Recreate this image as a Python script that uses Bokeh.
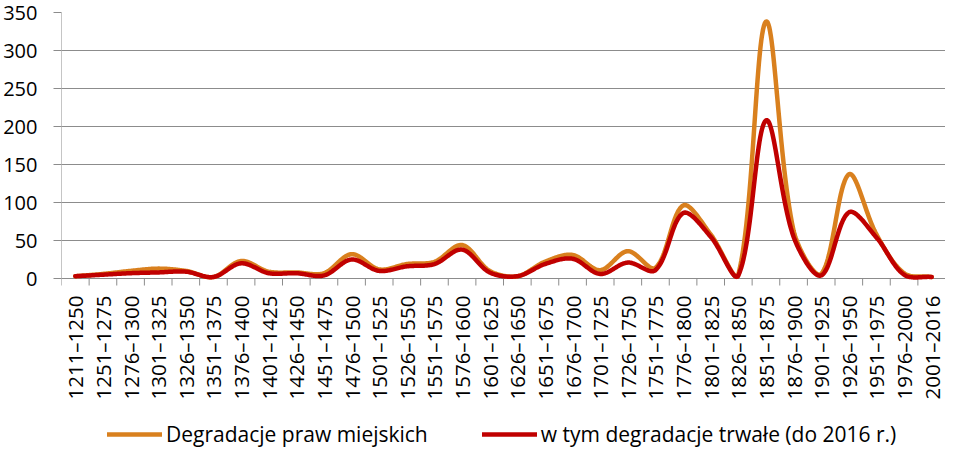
import numpy as np
from bokeh.plotting import figure
from bokeh.models import Range1d, FixedTicker, Legend, LegendItem
from bokeh.core.properties import value
from bokeh.embed import file_html
from bokeh.resources import INLINE

categories = ["1211–1250", "1251–1275", "1276–1300", "1301–1325", "1326–1350", "1351–1375",
              "1376–1400", "1401–1425", "1426–1450", "1451–1475", "1476–1500", "1501–1525",
              "1526–1550", "1551–1575", "1576–1600", "1601–1625", "1626–1650", "1651–1675",
              "1676–1700", "1701–1725", "1726–1750", "1751–1775", "1776–1800", "1801–1825",
              "1826–1850", "1851–1875", "1876–1900", "1901–1925", "1926–1950", "1951–1975",
              "1976–2000", "2001–2016"]
degradacje = [3, 6, 10, 13, 10, 2, 23, 9, 8, 7, 32, 12, 19, 22, 44, 10, 3, 22, 31, 11,
              36, 14, 96, 58, 5, 338, 63, 6, 137, 58, 7, 2]
trwale = [3, 5, 7, 8, 9, 2, 20, 7, 7, 4, 25, 10, 16, 19, 38, 8, 3, 19, 26, 6,
          21, 11, 86, 55, 4, 208, 55, 4, 87, 54, 5, 2]
y_ticks = [0, 50, 100, 150, 200, 250, 300, 350]
legend_labels = ["Degradacje praw miejskich", "w tym degradacje trwałe (do 2016 r.)"]

FONT = "Open Sans"
GRID = "#8c8c8c"
ORANGE = "#d9801e"
RED = "#c00000"

W, H = 945, 448
LEFT, TOP = 60, 12
FRAME_W = W - LEFT
FRAME_H = H - TOP
PLOT_H = 266                 # pixel height of the 0..350 value area
Y_MAX = 350.0
Y_PX = PLOT_H / Y_MAX
Y_MIN = -(FRAME_H - PLOT_H) / Y_PX


def smooth(xs, ys, sx, sy, n=30):
    """Excel-like smoothed line: cubic Bezier, tangent split by chord lengths (in pixels)."""
    X = np.asarray(xs, float) * sx
    Y = np.asarray(ys, float) * sy
    P = np.stack([X, Y], axis=1)
    m = len(P)
    out = []
    t = np.linspace(0, 1, n)[:, None]
    for i in range(m - 1):
        p0 = P[max(i - 1, 0)]
        p1, p2 = P[i], P[i + 1]
        p3 = P[min(i + 2, m - 1)]
        d01 = np.hypot(*(p1 - p0))
        d12 = np.hypot(*(p2 - p1))
        d23 = np.hypot(*(p3 - p2))
        f1 = d12 / (d01 + d12) if d01 + d12 > 0 else 0.5
        f2 = d12 / (d12 + d23) if d12 + d23 > 0 else 0.5
        c1 = p1 + (p2 - p0) * f1 / 3.0
        c2 = p2 - (p3 - p1) * f2 / 3.0
        b = (1 - t) ** 3 * p1 + 3 * (1 - t) ** 2 * t * c1 + 3 * (1 - t) * t ** 2 * c2 + t ** 3 * p2
        if i > 0:
            b = b[1:]
        out.append(b)
    B = np.concatenate(out)
    bx = B[:, 0] / sx
    by = np.maximum(B[:, 1] / sy, 0.0)   # plot area clips at 0
    return list(bx), list(by)


n = len(categories)
centers = [i + 0.5 for i in range(n)]
bounds = list(range(n + 1))
px_x = FRAME_W / n

p = figure(width=W, height=H, output_backend="svg", toolbar_location=None,
           x_range=Range1d(0, n), y_range=Range1d(Y_MIN, Y_MAX),
           x_axis_location=None,
           min_border_left=LEFT, min_border_right=0, min_border_top=TOP, min_border_bottom=0)
p.outline_line_color = None
p.background_fill_color = "white"
p.border_fill_color = "white"

# y axis (line drawn only over the value area)
p.yaxis.ticker = FixedTicker(ticks=y_ticks)
p.yaxis.major_tick_out = 8
p.yaxis.major_tick_in = 0
p.yaxis.minor_tick_out = 0
p.yaxis.minor_tick_in = 0
p.yaxis.major_tick_line_color = GRID
p.yaxis.axis_line_color = None
p.yaxis.major_label_standoff = 16
p.yaxis.major_label_text_font = FONT
p.yaxis.major_label_text_font_size = "20px"
p.yaxis.major_label_text_color = "#000000"
p.segment(x0=[0], y0=[0], x1=[0], y1=[Y_MAX], line_color=GRID, line_width=1)

p.xgrid.grid_line_color = None
p.ygrid.ticker = FixedTicker(ticks=y_ticks)
p.ygrid.grid_line_color = GRID
p.ygrid.grid_line_width = 1

# category axis: tick marks at category boundaries, labels at centres
tick_len = 7 / Y_PX
p.segment(x0=bounds, y0=[0] * len(bounds), x1=bounds, y1=[-tick_len] * len(bounds),
          line_color=GRID, line_width=1)
p.text(x=centers, y=[-17 / Y_PX] * n, text=categories, angle=np.pi / 2,
       text_align="right", text_baseline="middle",
       text_font=value(FONT), text_font_size="20.5px", text_color="#000000")

ox, oy = smooth(centers, degradacje, px_x, Y_PX)
rx, ry = smooth(centers, trwale, px_x, Y_PX)
r1 = p.line(ox, oy, line_color=ORANGE, line_width=4.5, line_join="round", line_cap="round")
r2 = p.line(rx, ry, line_color=RED, line_width=4.5, line_join="round", line_cap="round")

legend = Legend(items=[LegendItem(label=legend_labels[0], renderers=[r1]),
                       LegendItem(label=legend_labels[1], renderers=[r2])],
                orientation="horizontal", location=(46, 0),
                glyph_width=55, glyph_height=20, label_standoff=4, spacing=54,
                padding=0, margin=0, border_line_color=None, background_fill_alpha=0,
                label_text_font=FONT, label_text_font_size="21px", label_text_color="#000000",
                label_height=20)
p.add_layout(legend, "center")

open("out.html", "w").write(file_html(p, INLINE))
